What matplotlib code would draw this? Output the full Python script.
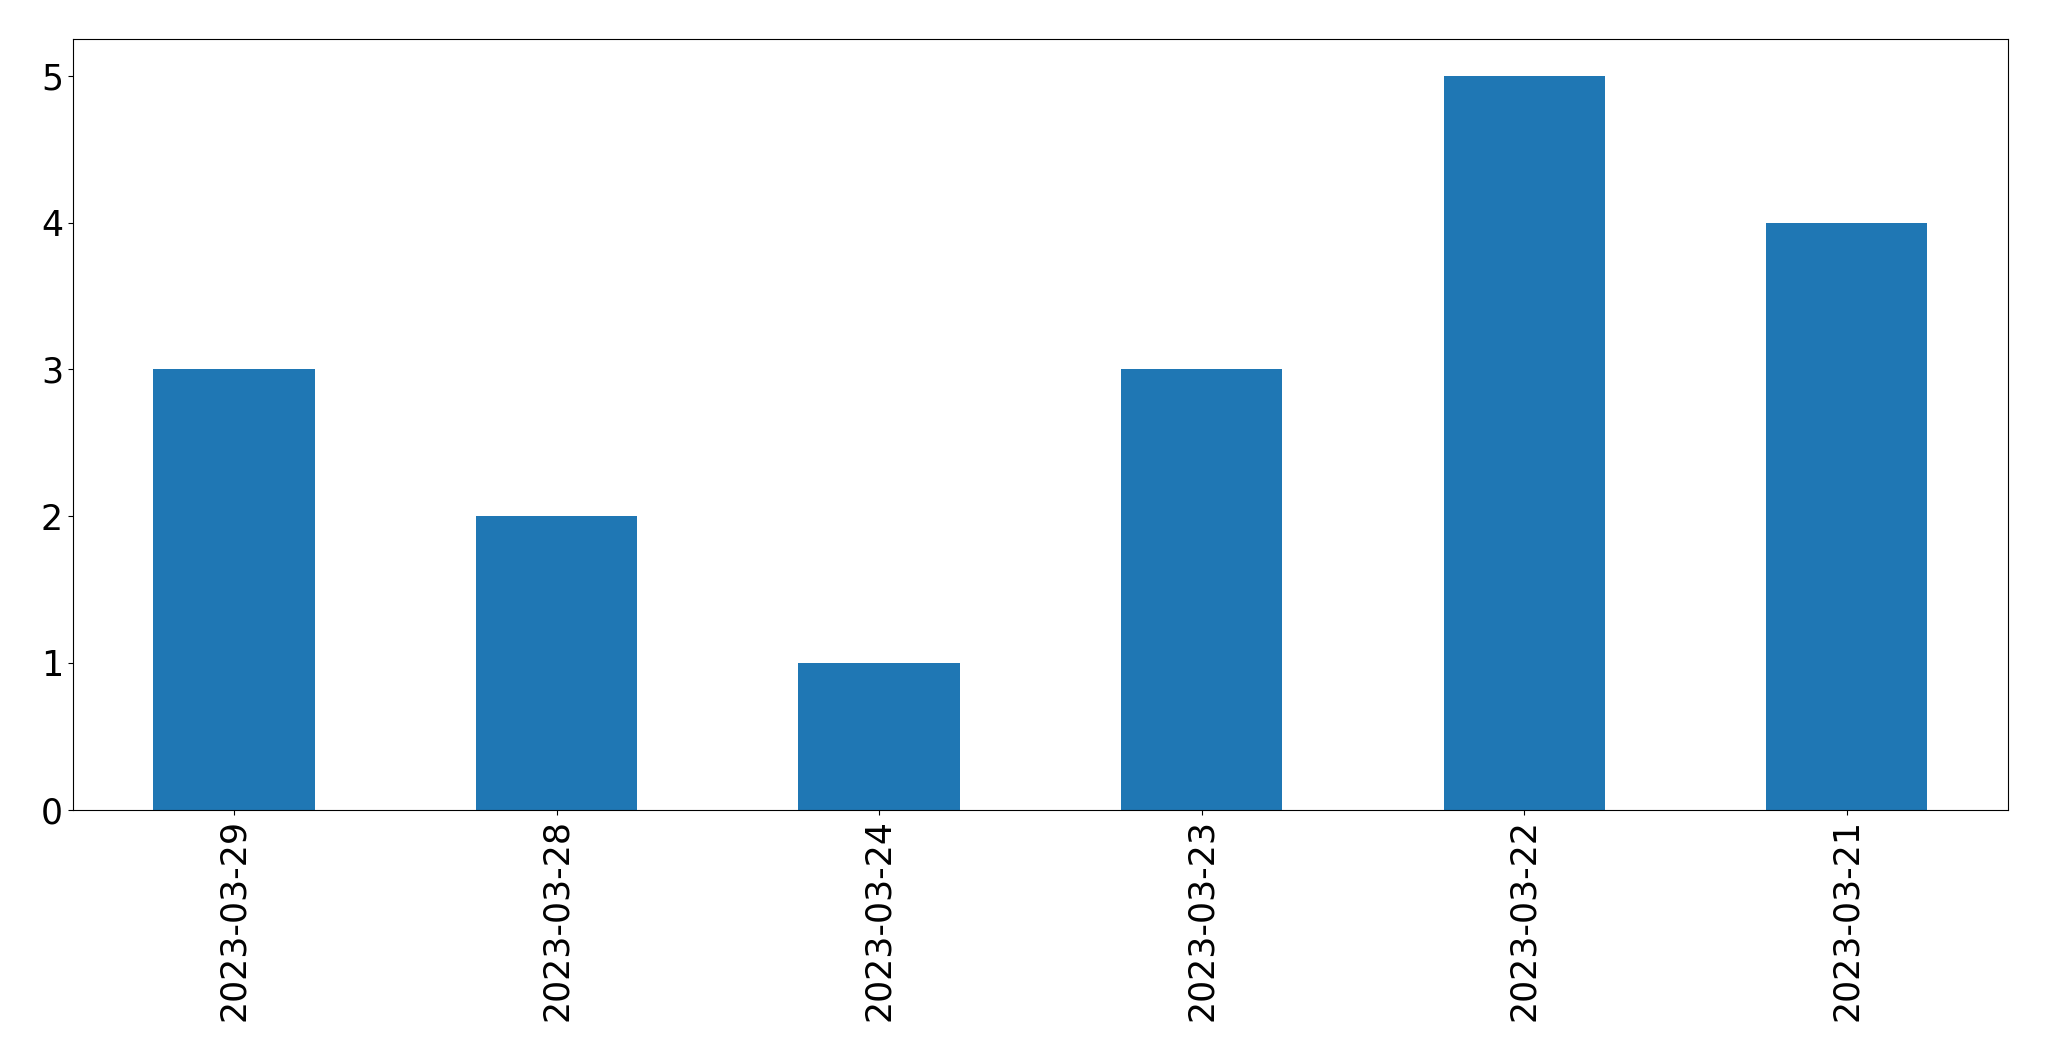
import matplotlib
matplotlib.use("Agg")
import matplotlib.pyplot as plt

dates = ["2023-03-29", "2023-03-28", "2023-03-24", "2023-03-23", "2023-03-22", "2023-03-21"]
counts = [3, 2, 1, 3, 5, 4]


def main():
    fig, ax = plt.subplots(figsize=(20.49, 10.61), dpi=100)
    fig.subplots_adjust(left=0.0355, right=0.980, top=0.963, bottom=0.237)

    x = range(len(dates))
    ax.bar(x, counts, width=0.5, color="#1f77b4")
    ax.set_xlim(-0.5, len(dates) - 0.5)
    ax.set_xticks(list(x))
    ax.set_xticklabels(dates, rotation=90)
    ax.tick_params(labelsize=25)

    fig.savefig("out.png", dpi=100)


if __name__ == "__main__":
    main()
